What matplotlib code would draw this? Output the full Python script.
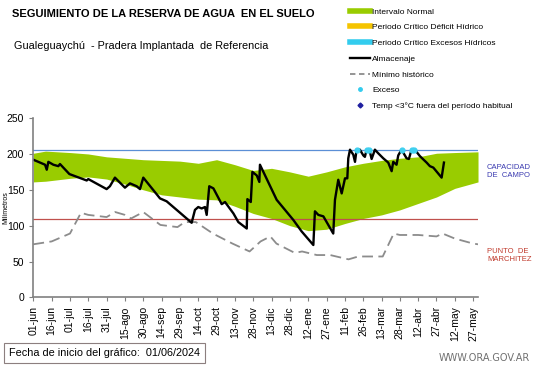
import matplotlib.pyplot as plt
from matplotlib.lines import Line2D
import numpy as np

plt.rcParams['font.family'] = ['Liberation Sans', 'DejaVu Sans']

# days since 01/06/2024
tick_days = list(range(0, 361, 15))
tick_labels = ['01-jun', '16-jun', '01-jul', '16-jul', '31-jul', '15-ago', '30-ago',
               '14-sep', '29-sep', '14-oct', '29-oct', '13-nov', '28-nov', '13-dic',
               '28-dic', '12-ene', '27-ene', '11-feb', '26-feb', '13-mar', '28-mar',
               '12-abr', '27-abr', '12-may', '27-may']

# normal interval (green band)
band_days = [0, 10, 30, 45, 60, 75, 90, 105, 120, 135, 150, 165, 180, 195,
             210, 225, 240, 255, 270, 285, 300, 315, 330, 345, 364]
band_upper = [201, 204, 202, 200, 196, 194, 192, 191, 190, 187, 192, 185, 177, 180,
              175, 169, 175, 182, 187, 191, 194, 196, 201, 202, 203]
band_lower = [161, 162, 166, 168, 165, 158, 150, 143, 140, 137, 136, 127, 117, 110,
              100, 93, 95, 103, 110, 115, 122, 131, 140, 152, 161]

# historical minimum
min_days = [0, 15, 30, 39, 45, 60, 67, 75, 80, 90, 104, 118, 124, 133, 147, 163,
            177, 186, 194, 199, 214, 220, 232, 243, 258, 266, 286, 295, 300, 315,
            330, 335, 345, 360, 364]
min_vals = [74, 78, 89, 118, 115, 112, 119, 115, 110, 119, 101, 98, 105, 105, 89, 75,
            64, 78, 85, 75, 62, 64, 59, 59, 53, 57, 57, 89, 87, 87, 85, 89, 82, 75, 74]

# soil water storage
stor_days = [0, 9.6, 11, 12.3, 16.4, 20.5, 21.8, 29.5, 43.7, 45, 60, 62.7, 66.8,
             75, 79.1, 84.6, 87.3, 90, 103.7, 109.1, 118.7, 129.6, 132.3, 135, 137.8,
             140.5, 141.9, 144, 147.4, 154.2, 156.9, 163.8, 167.8, 174.7, 175.2, 178,
             179.3, 182.9, 185, 185.5, 199.2, 212.8, 219.6, 229.2, 230.5, 233.3, 237.4,
             245.5, 246.9, 249.6, 252.4, 255.1, 257, 257.8, 259.2, 261.9, 263.3, 264.6,
             267.3, 270.1, 271.4, 272.8, 275.5, 276.9, 279.6, 282.3, 286.4, 290.5,
             293.3, 294.6, 297.3, 298.7, 301.4, 305.5, 307.4, 309.6, 312.3, 316.4,
             321.9, 324.6, 327.4, 334.2, 336.1]
stor_vals = [192, 185, 178, 189, 185, 183, 186, 172, 163, 165, 151, 155, 167,
             153, 159, 155, 151, 167, 138, 134, 120, 104, 122, 126, 124,
             126, 115, 155, 152, 130, 133, 117, 105, 96, 137, 133,
             175, 170, 161, 185, 136, 108, 92, 73, 120, 115, 113,
             89, 136, 164, 145, 166, 166, 194, 206, 199, 189, 206,
             206, 198, 196, 206, 203, 193, 206, 201, 194, 188,
             176, 189, 185, 198, 206, 194, 193, 206, 206, 197,
             188, 183, 181, 167, 188]

exceso_days = [264.6, 272.8, 274.5, 301.5, 309.6, 311.5]
exceso_vals = [206, 206, 206, 206, 206, 206]

cap_campo = 206
punto_marchitez = 109

fig = plt.figure(figsize=(5.41, 3.68), dpi=100)
ax = fig.add_axes([0.0616, 0.192, 0.822, 0.487])

ax.fill_between(band_days, band_lower, band_upper, color='#99cc00', lw=0)
ax.axhline(cap_campo, color='#5b8fd6', lw=0.9)
ax.axhline(punto_marchitez, color='#c0504d', lw=0.9)
ax.plot(min_days, min_vals, color='#8c8c8c', lw=1.3, dashes=(6, 3))
ax.plot(stor_days, stor_vals, color='black', lw=1.7)
ax.scatter(exceso_days, exceso_vals, s=12, color='#40d0f0', zorder=5)

ax.set_xlim(0, 364)
ax.set_ylim(0, 250)
ax.set_yticks(range(0, 251, 50))
ax.set_xticks(tick_days)
ax.set_xticklabels(tick_labels, rotation=90, fontsize=7.5)
ax.tick_params(axis='y', labelsize=7.5, length=3, color='#808080')
ax.tick_params(axis='x', length=3, color='#808080')
for s in ['top', 'right']:
    ax.spines[s].set_visible(False)
for s in ['left', 'bottom']:
    ax.spines[s].set_color('#808080')
    ax.spines[s].set_linewidth(1.2)
ax.set_ylabel('Milímetros', fontsize=5, labelpad=-1.5)

fig.text(0.022, 0.962, 'SEGUIMIENTO DE LA RESERVA DE AGUA  EN EL SUELO',
         fontsize=8, fontweight='bold', va='center')
fig.text(0.026, 0.875, 'Gualeguaychú  - Pradera Implantada  de Referencia',
         fontsize=7.8, va='center')

handles = [
    Line2D([], [], color='#99cc00', lw=4),
    Line2D([], [], color='#f5c400', lw=4),
    Line2D([], [], color='#33ccee', lw=4),
    Line2D([], [], color='black', lw=1.7),
    Line2D([], [], color='#8c8c8c', lw=1.3, dashes=(3, 2)),
    Line2D([], [], color='#33ccee', marker='o', ms=2.5, lw=0),
    Line2D([], [], color='#1f1fa0', marker='D', ms=2.5, lw=0),
]
labels = ['Intervalo Normal', 'Periodo Crítico Déficit Hídrico',
          'Periodo Crítico Excesos Hídricos', 'Almacenaje', 'Mínimo histórico',
          'Exceso', 'Temp <3°C fuera del período habitual']
fig.legend(handles, labels, loc='upper left', bbox_to_anchor=(0.637, 0.995),
           frameon=False, fontsize=6, handlelength=2.3, handletextpad=0.3,
           labelspacing=0.95, borderaxespad=0.3)

fig.text(0.9, 0.535, 'CAPACIDAD\nDE  CAMPO', fontsize=5.5, color='#3a3ab0',
         va='center', linespacing=1.2)
fig.text(0.9, 0.305, 'PUNTO  DE\nMARCHITEZ', fontsize=5.5, color='#c0392b',
         va='center', linespacing=1.2)

fig.text(0.017, 0.04, 'Fecha de inicio del gráfico:  01/06/2024', fontsize=7.8,
         va='center', bbox=dict(boxstyle='square,pad=0.45', fc='white', ec='#8c7f7f', lw=0.8))
fig.text(0.98, 0.027, 'WWW.ORA.GOV.AR', fontsize=7, color='#707070',
         ha='right', va='center', family='DejaVu Sans')

fig.savefig('out.png', dpi=100)
